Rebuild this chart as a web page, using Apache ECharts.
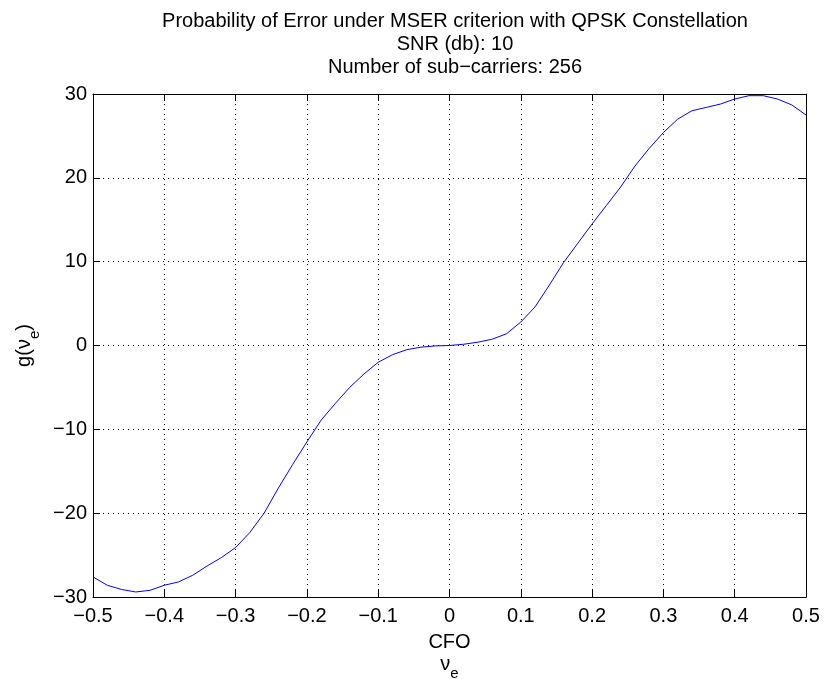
<!DOCTYPE html>
<html>
<head>
<meta charset="utf-8">
<script src="https://cdn.jsdelivr.net/npm/echarts@6/dist/echarts.min.js"></script>
<style>html,body{margin:0;padding:0;background:#fff;overflow:hidden}#c{width:824px;height:679px}</style>
</head>
<body>
<div id="c"></div>
<script>
const cfo = [-0.50,-0.48,-0.46,-0.44,-0.42,-0.40,-0.38,-0.36,-0.34,-0.32,-0.30,-0.28,-0.26,-0.24,-0.22,-0.20,-0.18,-0.16,-0.14,-0.12,-0.10,-0.08,-0.06,-0.04,-0.02,0.00,0.02,0.04,0.06,0.08,0.10,0.12,0.14,0.16,0.18,0.20,0.22,0.24,0.26,0.28,0.30,0.32,0.34,0.36,0.38,0.40,0.42,0.44,0.46,0.48,0.50];
const gValues = [-27.6,-28.6,-29.1,-29.4,-29.2,-28.6,-28.2,-27.4,-26.3,-25.3,-24.1,-22.3,-20.0,-17.0,-14.2,-11.5,-8.9,-6.9,-5.0,-3.4,-2.0,-1.1,-0.5,-0.2,-0.05,0,0.15,0.4,0.75,1.4,2.8,4.6,7.2,9.9,12.2,14.5,16.7,18.9,21.4,23.5,25.4,27.0,28.0,28.4,28.8,29.4,29.8,29.8,29.4,28.7,27.5];
const titleLines = ['Probability of Error under MSER criterion with QPSK Constellation','SNR (db): 10','Number of sub\u2212carriers: 256'];
const xTicks = {min:-0.5, max:0.5, interval:0.1};
const yTicks = {min:-30, max:30, interval:10};

const FONT = 'Liberation Sans';
const fmt = v => { let s = (Math.round(v*10)/10).toString(); return s.replace('-', '\u2212'); };
const fmtY = v => String(v).replace('-', '\u2212');

const chart = echarts.init(document.getElementById('c'), null, {renderer:'canvas', width:824, height:679});
const dotted = {show:true, lineStyle:{color:'#000', type:[1,4], width:1}};
const tickIn = {show:true, inside:true, length:7, lineStyle:{color:'#000'}};
chart.setOption({
  animation:false,
  backgroundColor:'#fff',
  title:{
    text: titleLines.join('\n'),
    left: 450, top: 5, textAlign:'center',
    textStyle:{fontFamily:FONT, fontSize:20, fontWeight:'normal', color:'#000', lineHeight:23}
  },
  grid:{left:93, top:94, width:713, height:503, containLabel:false, outerBoundsMode:'none'},
  xAxis:[{
    type:'value', min:xTicks.min, max:xTicks.max, interval:xTicks.interval,
    axisLine:{show:true, onZero:false, lineStyle:{color:'#000', width:1}},
    axisTick:tickIn, splitLine:dotted,
    axisLabel:{formatter:fmt, color:'#000', fontFamily:FONT, fontSize:20, margin:9},
    name:'{a|CFO}\n{b|\u03bd}{c|e}', nameLocation:'middle', nameGap:34,
    nameTextStyle:{rich:{
      a:{fontFamily:FONT, fontSize:20, color:'#000', lineHeight:22},
      b:{fontFamily:FONT, fontSize:20, color:'#000', lineHeight:22},
      c:{fontFamily:FONT, fontSize:15, color:'#000', lineHeight:22, verticalAlign:'bottom', padding:[0,0,-6,0]}
    }}
  },{
    type:'value', position:'top', min:xTicks.min, max:xTicks.max, interval:xTicks.interval,
    axisLine:{show:true, onZero:false, lineStyle:{color:'#000'}},
    axisTick:tickIn, axisLabel:{show:false}, splitLine:{show:false}
  }],
  yAxis:[{
    type:'value', min:yTicks.min, max:yTicks.max, interval:yTicks.interval,
    axisLine:{show:true, onZero:false, lineStyle:{color:'#000', width:1}},
    axisTick:tickIn, splitLine:dotted,
    axisLabel:{formatter:fmtY, color:'#000', fontFamily:FONT, fontSize:20, margin:6},
    name:'{b|g(\u03bd}{c|e}{b|)}', nameLocation:'middle', nameGap:56, nameRotate:90,
    nameTextStyle:{rich:{
      b:{fontFamily:FONT, fontSize:20, color:'#000', lineHeight:24},
      c:{fontFamily:FONT, fontSize:15, color:'#000', lineHeight:24, verticalAlign:'bottom', padding:[0,0,-6,0]}
    }}
  },{
    type:'value', position:'right', min:yTicks.min, max:yTicks.max, interval:yTicks.interval,
    axisLine:{show:true, onZero:false, lineStyle:{color:'#000'}},
    axisTick:tickIn, axisLabel:{show:false}, splitLine:{show:false}
  }],
  series:[{
    type:'line', xAxisIndex:0, yAxisIndex:0,
    data: cfo.map((x,i)=>[x, gValues[i]]),
    showSymbol:false, smooth:false,
    lineStyle:{color:'#0000ff', width:1}, itemStyle:{color:'#0000ff'}
  }]
});
</script>
</body>
</html>
